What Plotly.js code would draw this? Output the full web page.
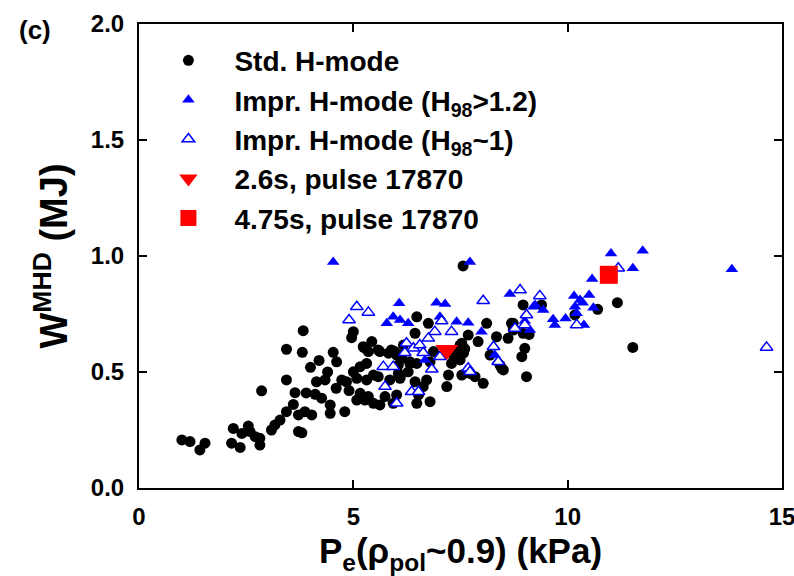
<!DOCTYPE html>
<html>
<head>
<meta charset="utf-8">
<script src="https://cdn.plot.ly/plotly-3.0.1.min.js"></script>
<style>html,body{margin:0;padding:0;background:#fff;}#chart{width:794px;height:576px;}</style>
</head>
<body>
<div id="chart"></div>
<script>
// Std. H-mode (black circles)
var stdX = [1.00,1.19,1.54,1.42,
  2.20,2.55,2.40,2.59,2.71,2.82,2.16,2.36,2.82,
  2.86,3.44,3.64,3.09,3.17,3.29,3.44,3.72,3.87,4.03,3.72,3.80,
  3.83,3.44,3.81,4.14,4.34,4.11,4.26,4.46,4.46,4.80,
  4.53,4.61,5.00,4.96,5.25,5.43,5.35,5.16,5.31,5.00,5.08,4.84,4.73,
  5.08,5.35,5.47,5.62,5.89,6.01,5.47,5.58,5.31,
  5.62,5.93,5.74,6.01,5.27,5.16,6.05,6.09,5.85,
  5.23,5.58,5.82,5.97,6.13,6.32,6.48,6.05,6.28,6.09,
  6.44,6.71,6.63,6.52,6.79,6.48,6.48,6.75,6.44,
  6.13,6.32,6.17,6.87,6.79,7.68,8.11,7.91,7.49,
  8.34,8.61,8.73,8.96,8.69,8.73,9.00,8.93,8.19,8.46,8.42,8.50,
  9.04,8.03,7.18,7.22,7.53,7.72,7.84,7.29,7.49,7.41,7.57,7.53,
  7.35,7.45,7.60,8.96,9.39,9.10,10.70,11.16,11.52,10.17,7.56,
  4.20,4.00,4.40,4.60,4.90,3.60,3.90];
var stdY = [0.207,0.200,0.193,0.164,
  0.257,0.267,0.235,0.243,0.221,0.214,0.193,0.175,0.185,
  0.419,0.466,0.411,0.250,0.272,0.293,0.329,0.315,0.329,0.315,0.243,0.238,
  0.678,0.598,0.585,0.458,0.466,0.404,0.387,0.358,0.322,0.329,
  0.585,0.544,0.674,0.648,0.605,0.631,0.588,0.523,0.537,0.501,0.473,0.458,0.466,
  0.379,0.394,0.365,0.588,0.595,0.573,0.487,0.480,0.466,
  0.358,0.365,0.394,0.401,0.379,0.408,0.494,0.473,0.466,
  0.609,0.595,0.581,0.588,0.573,0.537,0.537,0.530,0.501,0.480,
  0.458,0.466,0.437,0.401,0.372,0.365,0.738,0.710,0.667,
  0.559,0.544,0.616,0.588,0.544,0.659,0.710,0.631,0.616,
  0.652,0.645,0.710,0.667,0.710,0.681,0.602,0.566,0.573,0.516,0.530,0.509,
  0.480,0.451,0.437,0.487,0.487,0.494,0.480,0.537,0.552,0.588,0.581,0.624,
  0.560,0.570,0.600,0.789,0.789,0.662,0.770,0.799,0.606,0.746,0.957,
  0.550,0.520,0.500,0.430,0.420,0.360,0.410];

// Impr. H-mode (H98>1.2) (filled blue triangles)
var impHiX = [4.53,6.07,6.94,7.14,5.93,5.78,6.09,6.28,7.02,7.41,7.68,7.99,8.65,9.24,9.43,9.12,6.67,8.30,8.38,
  7.72,11.01,11.75,11.52,13.83,10.57,10.15,10.50,10.29,10.35,10.17,10.21,10.60,
  9.20,9.66,9.70,9.95,10.38,9.00];
var impHiY = [0.974,0.796,0.799,0.793,0.738,0.710,0.724,0.710,0.738,0.717,0.712,0.674,0.836,0.789,0.767,0.681,0.552,0.573,0.550,
  0.974,1.011,1.023,0.947,0.943,0.901,0.828,0.832,0.810,0.799,0.781,0.753,0.777,
  0.781,0.727,0.703,0.731,0.703,0.720];

// Impr. H-mode (H98~1) (open blue triangles)
var impLoX = [5.08,5.35,4.90,6.24,6.40,6.55,6.20,6.63,5.70,5.93,5.74,6.01,
  8.03,8.89,9.35,9.04,9.00,8.77,7.06,6.90,6.75,7.29,7.02,6.83,
  7.68,7.72,8.27,8.38,6.36,6.52,10.21,11.18,14.64];
var impLoY = [0.781,0.757,0.724,0.624,0.602,0.616,0.583,0.583,0.523,0.523,0.437,0.365,
  0.807,0.853,0.828,0.746,0.703,0.688,0.720,0.674,0.645,0.674,0.566,0.512,
  0.516,0.501,0.609,0.544,0.415,0.415,0.703,0.947,0.606];

// Pulse 17870
var p26X = [7.18], p26Y = [0.595];
var p475X = [10.96], p475Y = [0.919];

var xTicks = [0, 5, 10, 15];
var yTicks = [0, 0.5, 1.0, 1.5, 2.0];

var FONT = 'Liberation Sans, Arial, Helvetica, sans-serif';

var traces = [
  {x: stdX, y: stdY, type: 'scatter', mode: 'markers', name: 'Std. H-mode',
   marker: {symbol: 'circle', size: 11, color: '#000000'}},
  {x: impHiX, y: impHiY, type: 'scatter', mode: 'markers', name: 'Impr. H-mode (H<sub>98</sub>>1.2)',
   marker: {symbol: 'triangle-up', size: 11, color: '#0000ff'}},
  {x: impLoX, y: impLoY, type: 'scatter', mode: 'markers', name: 'Impr. H-mode (H<sub>98</sub>~1)',
   marker: {symbol: 'triangle-up', size: 11, color: '#ffffff', line: {color: '#0000ff', width: 1.5}}},
  {x: p26X, y: p26Y, type: 'scatter', mode: 'markers', name: '2.6s, pulse 17870',
   marker: {symbol: 'triangle-down', size: 20, color: '#ff0000'}},
  {x: p475X, y: p475Y, type: 'scatter', mode: 'markers', name: '4.75s, pulse 17870',
   marker: {symbol: 'square', size: 18, color: '#ff0000'}}
];

var layout = {
  width: 794, height: 576,
  margin: {l: 139, r: 12, t: 24, b: 88},
  paper_bgcolor: '#ffffff', plot_bgcolor: '#ffffff',
  font: {family: FONT, color: '#000000'},
  showlegend: true,
  legend: {x: 0.0053, y: 0.975, xanchor: 'left', yanchor: 'top', itemwidth: 82,
    bgcolor: 'rgba(0,0,0,0)', borderwidth: 0,
    font: {family: FONT, size: 28, weight: 'bold', color: '#000'}},
  xaxis: {range: [0, 15], tickvals: xTicks, ticktext: xTicks.map(String),
    showgrid: false, zeroline: false, showline: true, linecolor: '#000', linewidth: 2,
    mirror: 'ticks', ticks: 'inside', ticklen: 8, tickwidth: 2, tickcolor: '#000',
    ticklabelstandoff: 6, ticklabeloverflow: 'allow',
    tickfont: {family: FONT, size: 24, weight: 'bold'},
    title: {text: 'P<sub>e</sub>(ρ<sub>pol</sub>~0.9) (kPa)', standoff: 10,
      font: {family: FONT, size: 35, weight: 'bold'}}},
  yaxis: {range: [0, 2], tickvals: yTicks, ticktext: yTicks.map(function(v){return v.toFixed(1);}),
    showgrid: false, zeroline: false, showline: true, linecolor: '#000', linewidth: 2,
    mirror: 'ticks', ticks: 'inside', ticklen: 8, tickwidth: 2, tickcolor: '#000',
    ticklabelstandoff: 8,
    tickfont: {family: FONT, size: 24, weight: 'bold'},
    title: {text: 'W<sup>MHD</sup> (MJ)', standoff: 12,
      font: {family: FONT, size: 38, weight: 'bold'}}},
  annotations: [
    {text: '(c)', xref: 'paper', yref: 'paper', x: -0.134, y: 0.987, xanchor: 'right', yanchor: 'middle',
     showarrow: false, font: {family: FONT, size: 26, weight: 'bold'}}
  ]
};

Plotly.newPlot('chart', traces, layout, {displayModeBar: false, staticPlot: true});
</script>
</body>
</html>
